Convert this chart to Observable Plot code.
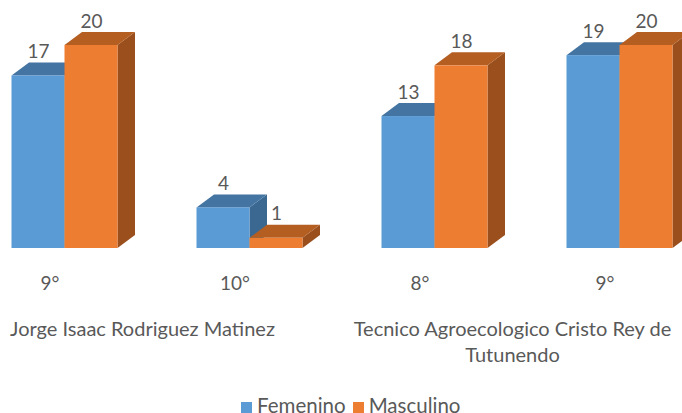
<!DOCTYPE html>
<html><head><meta charset="utf-8">
<script src="https://cdn.jsdelivr.net/npm/d3@7"></script>
<script src="https://cdn.jsdelivr.net/npm/@observablehq/plot@0.6"></script>
<style>
body{margin:0;background:#fff;font-family:Lato,"Open Sans",sans-serif;}
#wrap{width:682px;height:413px;position:relative;overflow:hidden;background:#fff}
#legend{position:absolute;left:241px;top:393px;display:flex;align-items:flex-start;font-size:20.5px;color:#595959;line-height:24px;white-space:nowrap}
#legend span.sw{display:inline-block;width:11px;height:11px;margin-right:5px;margin-top:9px}
#legend .item{display:flex;align-items:flex-start;margin-right:7px}
</style></head><body><div id="wrap"></div>
<script>
const groups = ["0", "1", "2", "3"];
const grades = ["9°", "10°", "8°", "9°"];
const schools = ["Jorge Isaac Rodriguez Matinez", "Tecnico Agroecologico Cristo Rey de\nTutunendo"];
const schoolStart = ["0", "2"];
const seriesNames = ["Femenino", "Masculino"];
const femenino = [17, 4, 13, 19];
const masculino = [20, 1, 18, 20];
const frontColors = ["#5B9BD5", "#ED7D31"];
const topColors = ["#4475A2", "#B45E22"];
const sideColors = ["#3A6891", "#9A4F1D"];

const fRows = groups.map((g, i) => ({group: g, value: femenino[i]}));
const mRows = groups.map((g, i) => ({group: g, value: masculino[i]}));
const schoolRows = schools.map((s, i) => ({name: s, start: schoolStart[i]}));

const txt = "#595959";
const svg = Plot.plot({
  width: 682,
  height: 392,
  marginTop: 0,
  marginBottom: 144,
  marginLeft: 0,
  marginRight: 0,
  style: {fontFamily: "Lato, Open Sans, sans-serif", background: "transparent", overflow: "hidden"},
  x: {domain: groups, range: [-43.5, 696.5], padding: 0, axis: null},
  y: {domain: [0, 20], range: [248, 45], axis: null},
  marks: [
    Plot.axisX({tickSize: 0, tickPadding: 28, fontSize: 19, fill: txt, tickFormat: d => grades[+d]}),
    Plot.barY(fRows, {x: "group", y: "value", fill: frontColors[0], insetLeft: 54.5, insetRight: 77.5}),
    Plot.barY(mRows, {x: "group", y: "value", fill: frontColors[1], insetLeft: 107.5, insetRight: 24.5}),
    Plot.text(fRows, {x: "group", y: "value", text: d => String(d.value), dx: -11.5, dy: -24, fontSize: 19, fill: txt}),
    Plot.text(mRows, {x: "group", y: "value", text: d => String(d.value), dx: 41.5, dy: -24, fontSize: 19, fill: txt}),
    Plot.text(schoolRows, {x: "start", text: "name", frameAnchor: "bottom", dx: 92.5, dy: 69, lineAnchor: "top", lineHeight: 1.3, fontSize: 20, fill: txt})
  ]
});

// extrude the front faces drawn by Plot into 3D boxes
const DX = 17.5, DY = -13;
const ns = "http://www.w3.org/2000/svg";
d3.select(svg).selectAll('g[aria-label="bar"]').nodes().forEach((g, k) => {
  d3.select(g).selectAll("rect").each(function () {
    const x = +this.getAttribute("x"), y = +this.getAttribute("y");
    const w = +this.getAttribute("width"), h = +this.getAttribute("height");
    const side = document.createElementNS(ns, "polygon");
    side.setAttribute("points", `${x + w},${y} ${x + w + DX},${y + DY} ${x + w + DX},${y + h + DY} ${x + w},${y + h}`);
    side.setAttribute("fill", sideColors[k]);
    const top = document.createElementNS(ns, "polygon");
    top.setAttribute("points", `${x},${y} ${x + DX},${y + DY} ${x + w + DX},${y + DY} ${x + w},${y}`);
    top.setAttribute("fill", topColors[k]);
    g.insertBefore(side, this);
    g.insertBefore(top, this);
  });
});

const wrap = document.getElementById("wrap");
wrap.appendChild(svg);
const legend = document.createElement("div");
legend.id = "legend";
seriesNames.forEach((n, i) => {
  const item = document.createElement("div");
  item.className = "item";
  item.innerHTML = `<span class="sw" style="background:${frontColors[i]}"></span><span>${n}</span>`;
  legend.appendChild(item);
});
wrap.appendChild(legend);
</script></body></html>
